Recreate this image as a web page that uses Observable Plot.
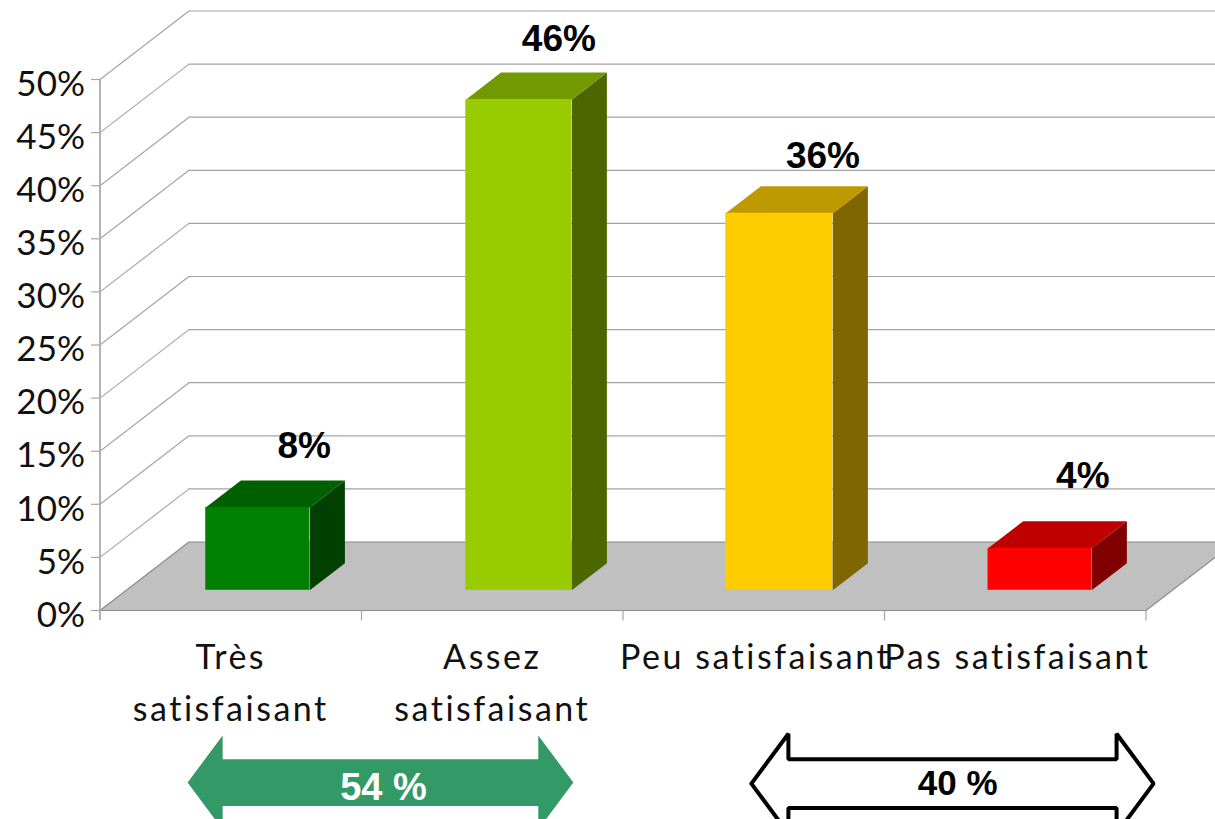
<!DOCTYPE html>
<html lang="fr">
<head>
<meta charset="utf-8">
<script src="https://cdn.jsdelivr.net/npm/d3@7"></script>
<script src="https://cdn.jsdelivr.net/npm/@observablehq/plot@0.6"></script>
<style>
  html, body { margin: 0; padding: 0; background: #fff; overflow: hidden; }
  svg { display: block; }
</style>
</head>
<body>
<div id="chart"></div>
<script>
// ---- data
const categories = ["Très\nsatisfaisant", "Assez\nsatisfaisant", "Peu satisfaisant", "Pas satisfaisant"];
const barHeights = [7.8, 46.2, 35.5, 3.95];
const barLabels = ["8%", "46%", "36%", "4%"];
const yTicks = [0, 5, 10, 15, 20, 25, 30, 35, 40, 45, 50];
const frontColors = ["#008000", "#99cc00", "#ffcc00", "#ff0000"];
const topColors = ["#006000", "#739900", "#bf9900", "#bf0000"];
const sideColors = ["#004000", "#4d6600", "#806600", "#800000"];
const groupLabels = ["54 %", "40 %"];

// ---- 3D projection and layout constants, in scale units
const depthX = 0.3403;   // category bands per full depth
const depthY = 6.45;     // percent per full depth
const barFront = 0.295;  // depth of a bar's front face
const barBack = 0.69;    // depth of a bar's rear face
const barLeft = [0.304, 1.2985, 2.2925, 3.2955];
const barRight = [0.7017, 1.7036, 2.7017, 3.692];
const nudgeX = [-0.054, -0.08, -0.07, -0.0765];
const nudgeY = [2.12, 2.07, 1.67, 3.1];
const categoryShift = [0, 0, 0.007, 0.008];
const tickX = 9 / 261.5;  // length of a y tick, in bands
const tickY = 10 / 10.62; // length of an x tick, in percent

const project = (x, y, d) => ({x: x + d * depthX, y: y + d * depthY});
const poly = (pts, color) => pts.map((p) => ({...p, color}));

const topFace = barHeights.map((v, i) => poly([
  project(barLeft[i], v, barFront), project(barRight[i], v, barFront),
  project(barRight[i], v, barBack), project(barLeft[i], v, barBack)
], topColors[i]));
const sideFace = barHeights.map((v, i) => poly([
  project(barRight[i], 0, barFront), project(barRight[i], v, barFront),
  project(barRight[i], v, barBack), project(barRight[i], 0, barBack)
], sideColors[i]));
const fronts = barHeights.map((v, i) => ({
  x1: project(barLeft[i], 0, barFront).x,
  x2: project(barRight[i], 0, barFront).x,
  y1: project(0, 0, barFront).y,
  y2: project(0, v, barFront).y,
  fill: frontColors[i]
}));
const floor = [project(0, 0, 0), project(4, 0, 0), project(4, 0, 1), project(0, 0, 1), project(0, 0, 0)];

const arrow = (x0, x1, yc, head, half, headHalf) => [
  {x: x0, y: yc}, {x: x0 + head, y: yc + headHalf}, {x: x0 + head, y: yc + half},
  {x: x1 - head, y: yc + half}, {x: x1 - head, y: yc + headHalf}, {x: x1, y: yc},
  {x: x1 - head, y: yc - headHalf}, {x: x1 - head, y: yc - half}, {x: x0 + head, y: yc - half},
  {x: x0 + head, y: yc - headHalf}, {x: x0, y: yc}
];
const greenArrow = arrow(0.335, 1.81, -16.2, 0.134, 2.2, 4.43);
const whiteArrow = arrow(2.491, 4.029, -16.3, 0.1415, 2.3, 4.7);

const lineFont = {fontFamily: "Lato", fill: "#111"};
const boldFont = {fontFamily: "'Liberation Sans'", fontWeight: "bold"};
const spaced = (ls) => function (index, scales, values, dims, context, next) {
  const g = next(index, scales, values, dims, context);
  g.style.letterSpacing = ls;
  return g;
};

const chart = Plot.plot({
  width: 1215,
  height: 819,
  marginLeft: 99.5,
  marginRight: 69.5,
  marginTop: 79,
  marginBottom: 209,
  style: {background: "#fff", overflow: "hidden"},
  x: {domain: [0, 4], axis: null},
  y: {domain: [0, 50], axis: null},
  marks: [
    // back wall grid and side wall grid
    Plot.ruleY(yTicks.slice(1), {y: (t) => t + depthY, x1: depthX, x2: 4 + depthX, stroke: "#a3a3a3", strokeWidth: 1.2}),
    Plot.link(yTicks.slice(1), {x1: 0, y1: (t) => t, x2: depthX, y2: (t) => t + depthY, stroke: "#a3a3a3", strokeWidth: 1.1}),
    // floor
    Plot.line(floor, {x: "x", y: "y", fill: "#c0c0c0", stroke: "#8c8c8c", strokeWidth: 1.2}),
    // axes
    Plot.ruleX([0], {y1: -tickY, y2: 50, stroke: "#b3b3b3", strokeWidth: 2}),
    Plot.link(yTicks, {x1: -tickX, x2: 0, y1: (t) => t, y2: (t) => t, stroke: "#a6a6a6", strokeWidth: 1.2}),
    Plot.link([1, 2, 3, 4], {x1: (t) => t, x2: (t) => t, y1: 0, y2: -tickY, stroke: "#a6a6a6", strokeWidth: 1.2}),
    Plot.axisY({ticks: yTicks, tickSize: 0, tickPadding: 15, tickFormat: (d) => d + "%", dy: 5, label: null, fontSize: 35, ...lineFont}),
    Plot.text(categories, {
      x: (d, i) => i + 0.5 + categoryShift[i], y: 0, text: (d) => d, dy: 21.6, lineAnchor: "top", lineHeight: 1.53,
      fontSize: 34, render: spaced("2.5px"), ...lineFont
    }),
    // bars
    ...sideFace.map((f) => Plot.line(f.concat(f[0]), {x: "x", y: "y", fill: f[0].color, stroke: "none"})),
    ...topFace.map((f) => Plot.line(f.concat(f[0]), {x: "x", y: "y", fill: f[0].color, stroke: "none"})),
    ...fronts.map((r) => Plot.rect([r], {x1: "x1", x2: "x2", y1: "y1", y2: "y2", fill: r.fill})),
    // value labels
    ...barHeights.map((v, i) => {
      const p = project(i + 0.5 + nudgeX[i], v + nudgeY[i], barBack);
      return Plot.text([barLabels[i]], {x: p.x + 0.1, y: p.y, text: (d) => d, fontSize: 37, lineAnchor: "bottom", fill: "#000", ...boldFont});
    }),
    // group arrows
    Plot.line(greenArrow, {x: "x", y: "y", fill: "#339966", stroke: "none"}),
    Plot.text([groupLabels[0]], {x: 1.084, y: -16.2, dy: 5, text: (d) => d, fontSize: 38, fill: "#fff", ...boldFont}),
    Plot.line(whiteArrow, {x: "x", y: "y", fill: "#fff", stroke: "#000", strokeWidth: 4, strokeLinejoin: "miter"}),
    Plot.text([groupLabels[1]], {x: 3.28, y: -16.3, text: (d) => d, fontSize: 35, fill: "#000", ...boldFont})
  ]
});
document.getElementById("chart").append(chart);
</script>
</body>
</html>
